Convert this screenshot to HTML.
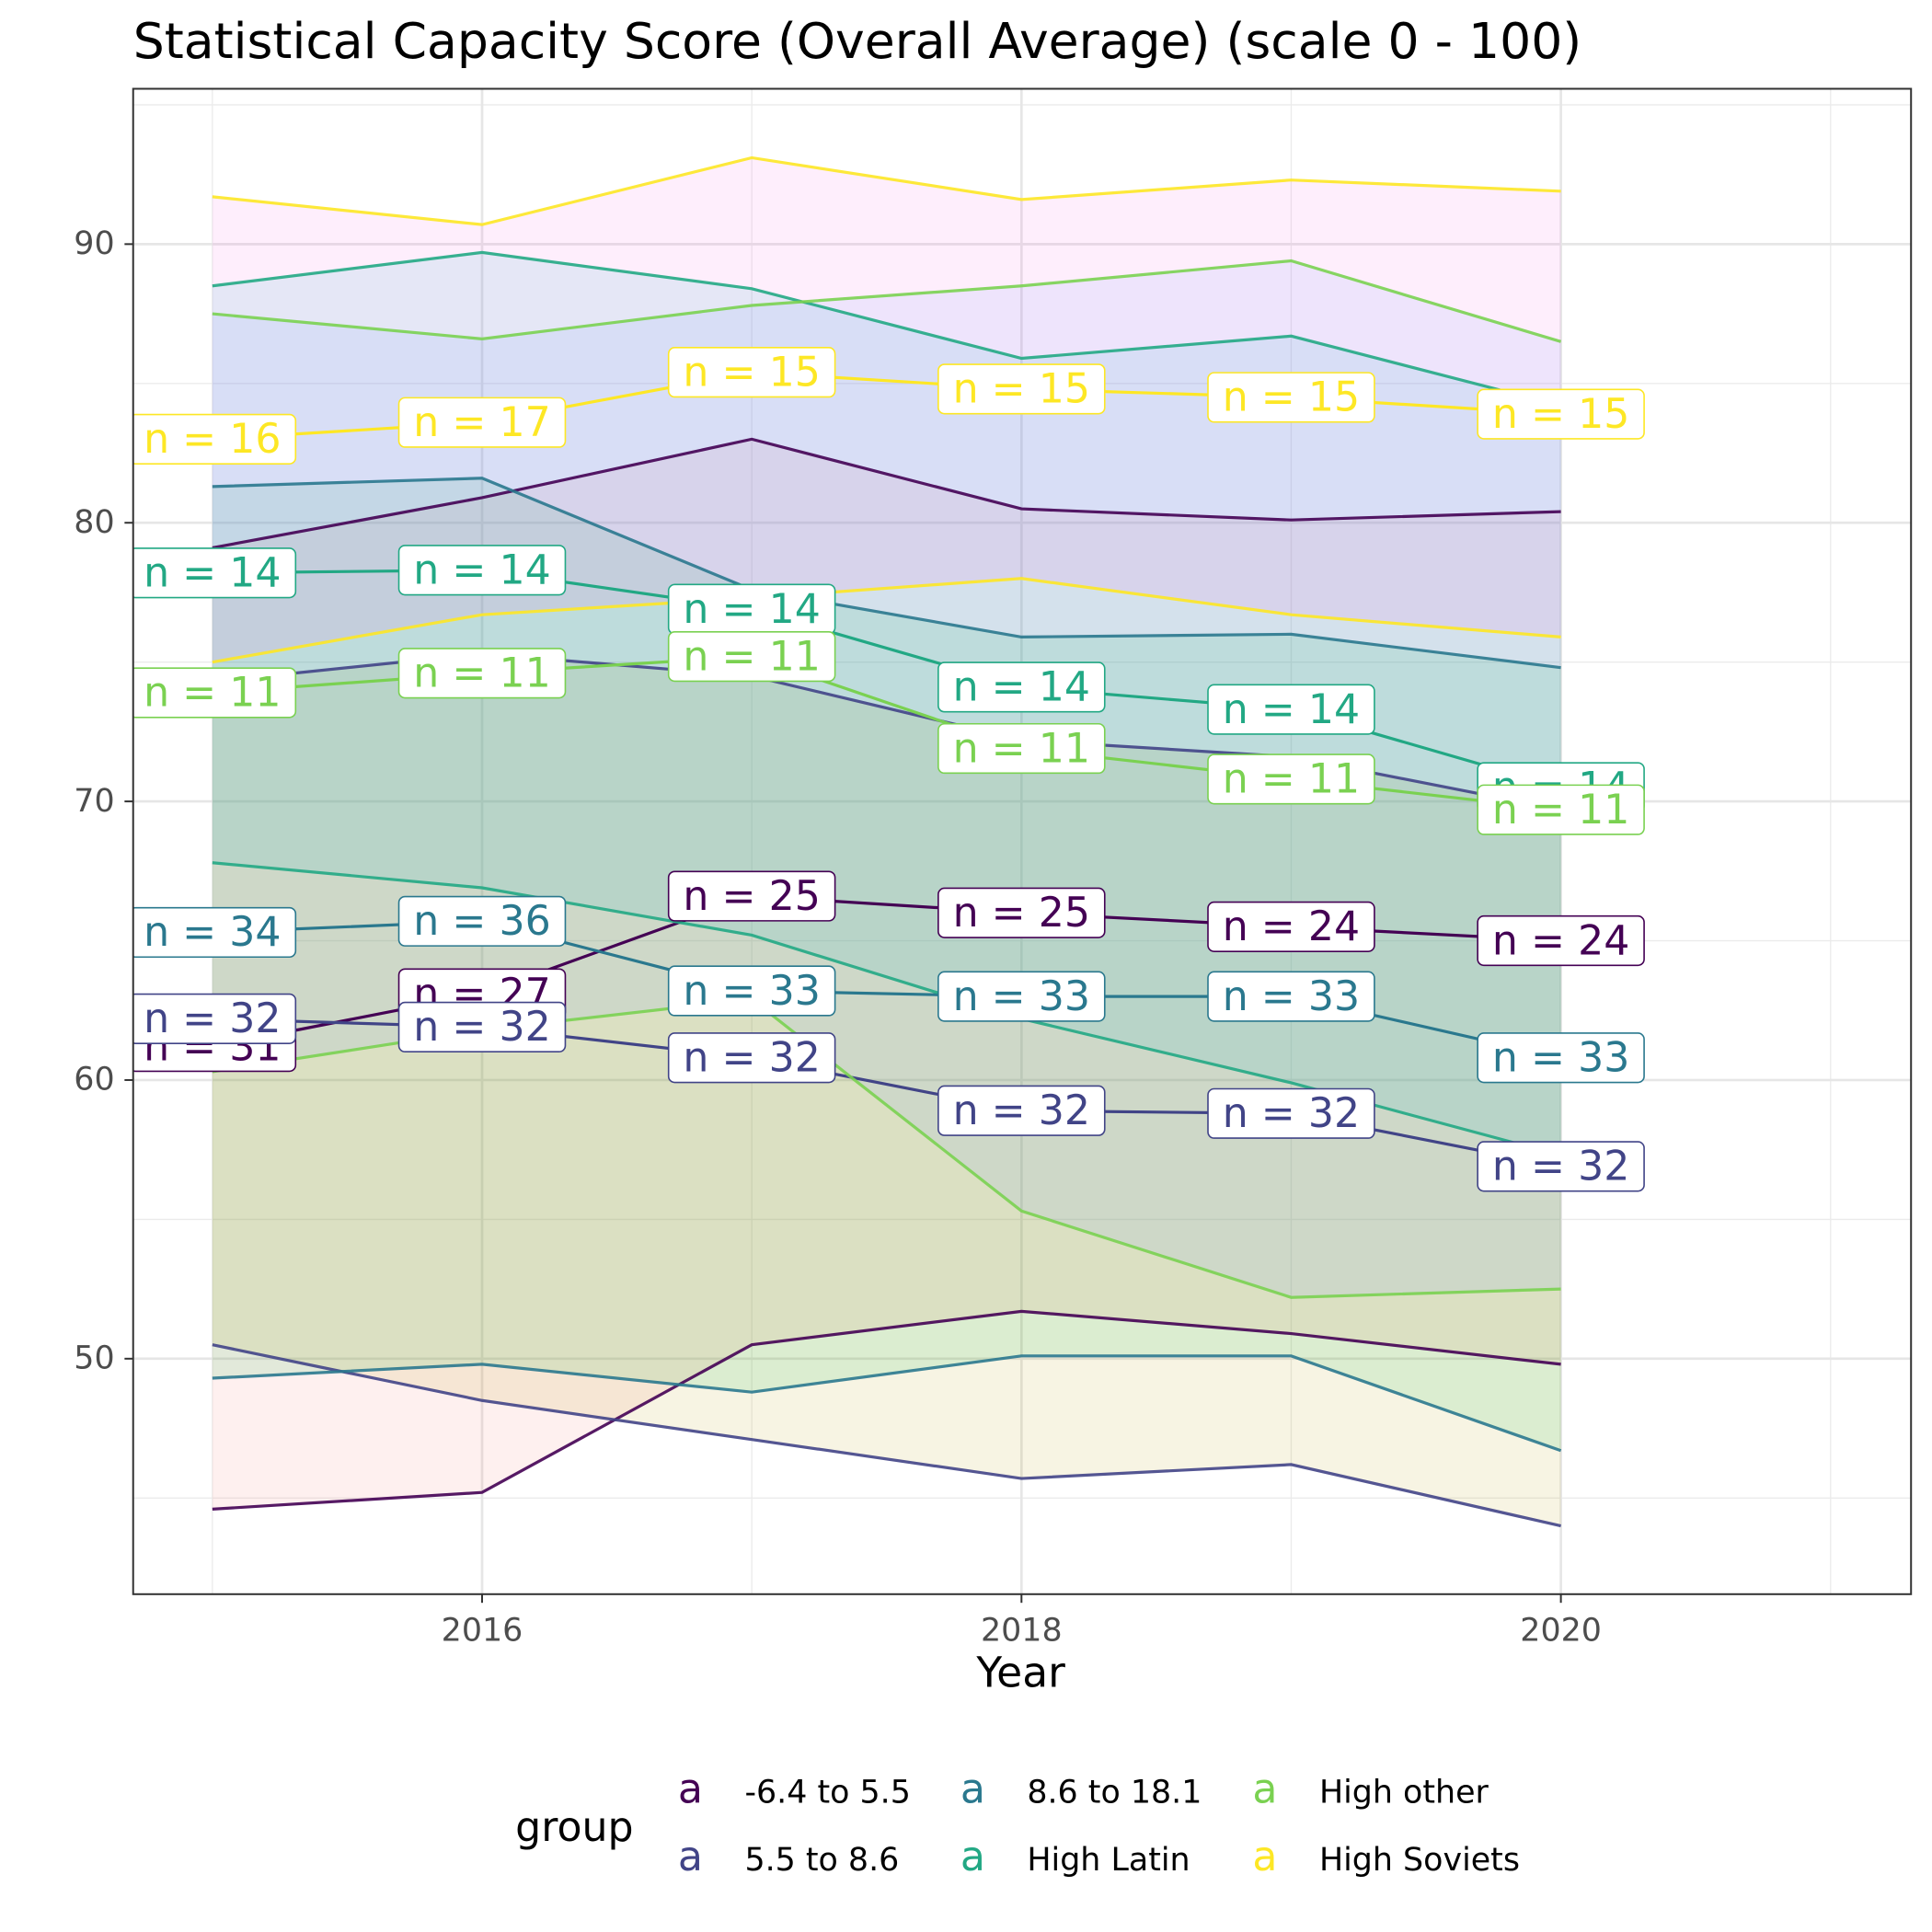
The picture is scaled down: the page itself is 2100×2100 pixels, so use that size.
<!DOCTYPE html>
<html><head><meta charset="utf-8"><style>
html,body{margin:0;padding:0;background:#fff}
svg{display:block;font-family:"DejaVu Sans","Liberation Sans",sans-serif}
</style></head><body>
<svg id="chart" width="2100" height="2100" viewBox="0 0 1567 1567" xmlns="http://www.w3.org/2000/svg">
<rect x="0" y="0" width="1567" height="1567" fill="#fff"/>
<text x="108" y="47" font-size="40" fill="#000">Statistical Capacity Score (Overall Average) (scale 0 - 100)</text>
<defs><clipPath id="pc"><rect x="108" y="72" width="1442" height="1221"/></clipPath></defs>
<g id="grid"></g>
<g id="plot" clip-path="url(#pc)"></g>
<rect x="108" y="72" width="1442" height="1221" fill="none" stroke="#333" stroke-width="1.5"/>
<g id="axes"></g>
<text x="828" y="1368" font-size="34" text-anchor="middle">Year</text>
<g id="legend"></g>
</svg>
<script>
const years=[2015,2016,2017,2018,2019,2020];
const groups=["-6.4 to 5.5","5.5 to 8.6","8.6 to 18.1","High Latin","High other","High Soviets"];
const lineColors=["#440154","#414487","#2A788E","#22A884","#7AD151","#FDE725"];
const fillColors=["#F8766D","#B79F00","#00BA38","#00BFC4","#619CFF","#F564E3"];
const means=[[61.2,63.1,66.6,66.0,65.5,65.0],[62.2,61.9,60.8,58.9,58.8,56.9],[65.3,65.7,63.2,63.0,63.0,60.8],[78.2,78.3,76.9,74.1,73.3,70.5],[73.9,74.6,75.2,71.9,70.8,69.7],[83.0,83.6,85.4,84.8,84.5,83.9]];
const uppers=[[79.1,80.9,83.0,80.5,80.1,80.4],[74.3,75.3,74.5,72.2,71.6,69.7],[81.3,81.6,77.6,75.9,76.0,74.8],[88.5,89.7,88.4,85.9,86.7,84.2],[87.5,86.6,87.8,88.5,89.4,86.5],[91.7,90.7,93.1,91.6,92.3,91.9]];
const lowers=[[44.6,45.2,50.5,51.7,50.9,49.8],[50.5,48.5,47.1,45.7,46.2,44.0],[49.3,49.8,48.8,50.1,50.1,46.7],[67.8,66.9,65.2,62.2,59.9,57.3],[60.3,61.8,62.9,55.3,52.2,52.5],[75.0,76.7,77.3,78.0,76.7,75.9]];
const counts=[[31,27,25,25,24,24],[32,32,32,32,32,32],[34,36,33,33,33,33],[14,14,14,14,14,14],[11,11,11,11,11,11],[16,17,15,15,15,15]];
const xTicks=[2016,2018,2020];
const yTicks=[50,60,70,80,90];
const NS="http://www.w3.org/2000/svg";
function X(v){return 391+(v-2016)*218.75;}
function Y(v){return 198+(90-v)*22.6;}
function mk(tag,attrs,parent){const e=document.createElementNS(NS,tag);for(const k in attrs)e.setAttribute(k,attrs[k]);parent.appendChild(e);return e;}
const grid=document.getElementById('grid'),plot=document.getElementById('plot'),axes=document.getElementById('axes'),legend=document.getElementById('legend');
for(let v=2015;v<=2021;v+=2){const l=mk('line',{x1:X(v),x2:X(v),y1:72,y2:1293,stroke:'#ebebeb','stroke-width':1},grid);

}
for(let v=45;v<=95;v+=10){const l=mk('line',{x1:108,x2:1550,y1:Y(v),y2:Y(v),stroke:'#ebebeb','stroke-width':1},grid);

}
xTicks.forEach(v=>{const l=mk('line',{x1:X(v),x2:X(v),y1:72,y2:1293,stroke:'#e6e6e6','stroke-width':2},grid);


const t=mk('line',{x1:X(v),x2:X(v),y1:1293,y2:1300,stroke:'#333','stroke-width':1.5},axes);


const tx=mk('text',{x:X(v),y:1331,'font-size':26,fill:'#4d4d4d','text-anchor':'middle'},axes);tx.textContent=v;

});
yTicks.forEach(v=>{const l=mk('line',{x1:108,x2:1550,y1:Y(v),y2:Y(v),stroke:'#e6e6e6','stroke-width':2},grid);


const t=mk('line',{x1:101,x2:108,y1:Y(v),y2:Y(v),stroke:'#333','stroke-width':1.5},axes);


const tx=mk('text',{x:93,y:Y(v)+8,'font-size':26,fill:'#4d4d4d','text-anchor':'end'},axes);tx.textContent=v;

});
groups.forEach((g,i)=>{let d='M';years.forEach((y,j)=>{d+=X(y)+','+Y(uppers[i][j])+' L';});
for(let j=years.length-1;j>=0;j--){d+=X(years[j])+','+Y(lowers[i][j])+(j?' L':' Z');}
const p=mk('path',{d:d,fill:fillColors[i],'fill-opacity':0.11,stroke:'none'},plot);

});
function pl(arr){return years.map((y,j)=>X(y)+','+Y(arr[j])).join(' ');}
groups.forEach((g,i)=>{[uppers[i],lowers[i],means[i]].forEach((arr,k)=>{const p=mk('polyline',{points:pl(arr),fill:'none',stroke:lineColors[i],'stroke-width':2.4,'stroke-opacity':k==2?1:0.9},plot);

});});
groups.forEach((g,i)=>{years.forEach((y,j)=>{const cx=X(y),cy=Y(means[i][j]);
const txt='n = '+counts[i][j];const w=135;
const r=mk('rect',{x:cx-w/2,y:cy-20,width:w,height:40,rx:5,fill:'#fff',stroke:lineColors[i],'stroke-width':1.2},plot);


const t=mk('text',{x:cx,y:cy+11,'font-size':33,fill:lineColors[i],'text-anchor':'middle'},plot);t.textContent=txt;

});});
const lt=mk('text',{x:418,y:1493,'font-size':33},legend);lt.textContent='group';


const lx=[560,789,1026],ly=[1453,1508];
groups.forEach((g,i)=>{const c=Math.floor(i/2),r=i%2;
const k=mk('text',{x:lx[c],y:ly[r]+9,'font-size':33,fill:lineColors[i],'text-anchor':'middle'},legend);k.textContent='a';


const t=mk('text',{x:lx[c]+44,y:ly[r]+9,'font-size':26},legend);t.textContent=g;

});
</script>
</body></html>
